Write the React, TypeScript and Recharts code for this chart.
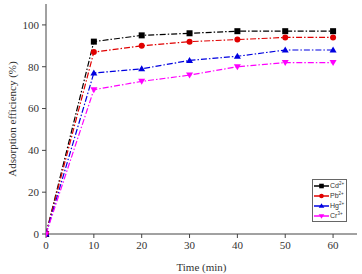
import { LineChart, Line, XAxis, YAxis, Label } from "recharts";

const times = [0, 10, 20, 30, 40, 50, 60];
const cd = [0, 92, 95, 96, 97, 97, 97];
const pb = [0, 87, 90, 92, 93, 94, 94];
const hg = [0, 77, 79, 83, 85, 88, 88];
const cr = [0, 69, 73, 76, 80, 82, 82];
const xTicks = [0, 10, 20, 30, 40, 50, 60];
const yTicks = [0, 20, 40, 60, 80, 100];

const data = times.map((t, i) => ({ t, cd: cd[i], pb: pb[i], hg: hg[i], cr: cr[i] }));

const series = [
  { key: "cd", ion: "Cd", charge: "2+", color: "#000000", shape: "square" },
  { key: "pb", ion: "Pb", charge: "2+", color: "#e00000", shape: "circle" },
  { key: "hg", ion: "Hg", charge: "2+", color: "#0000e0", shape: "triangle" },
  { key: "cr", ion: "Cr", charge: "3+", color: "#ff00ff", shape: "down" },
];

const serif = "'Liberation Serif', 'Times New Roman', serif";
const textCol = "#333";

function Marker({ cx, cy, shape, color, r = 3 }: any) {
  if (cx == null || cy == null) return null;
  if (shape === "square") return <rect x={cx - r} y={cy - r} width={r * 2} height={r * 2} fill={color} />;
  if (shape === "circle") return <circle cx={cx} cy={cy} r={r} fill={color} />;
  if (shape === "triangle")
    return <polygon points={`${cx},${cy - r - 0.5} ${cx - r - 0.5},${cy + r - 0.5} ${cx + r + 0.5},${cy + r - 0.5}`} fill={color} />;
  return <polygon points={`${cx},${cy + r + 0.5} ${cx - r - 0.5},${cy - r + 0.5} ${cx + r + 0.5},${cy - r + 0.5}`} fill={color} />;
}

// legend drawn as a plain overlay so it doesn't eat plot space
function LegendBox() {
  return (
    <div
      style={{
        position: "absolute",
        left: 312,
        top: 179,
        width: 35,
        height: 43,
        boxSizing: "border-box",
        border: "1px solid #666",
        background: "#fff",
        padding: "1px 1px",
        fontFamily: "'Liberation Sans', Arial, sans-serif",
        fontSize: 7,
      }}
    >
      {series.map((s) => (
        <div key={s.key} style={{ display: "flex", alignItems: "center", height: 10 }}>
          <svg width={15} height={8} style={{ flexShrink: 0, marginRight: 1 }}>
            <line x1={0} y1={4} x2={15} y2={4} stroke={s.color} strokeWidth={1.5} />
            <Marker cx={7.5} cy={4} shape={s.shape} color={s.color} r={2.3} />
          </svg>
          <span style={{ color: "#333", lineHeight: "10px", whiteSpace: "nowrap" }}>
            {s.ion}
            <span style={{ fontSize: 4.5, position: "relative", top: -3 }}>{s.charge}</span>
          </span>
        </div>
      ))}
    </div>
  );
}

export default function App() {
  return (
    <div style={{ position: "absolute", left: 0, top: 0, width: 362, height: 274, background: "#fff" }}>
      <LineChart width={362} height={274} data={data} margin={{ top: 4, right: 5, bottom: 0, left: 0 }}>
        <XAxis
          dataKey="t"
          type="number"
          domain={[0, 65]}
          ticks={xTicks}
          height={40}
          stroke="#444"
          tickSize={4}
          tickMargin={3}
          tick={{ fill: textCol, fontSize: 11, fontFamily: serif }}
          allowDataOverflow
        >
          <Label value="Time (min)" position="insideBottom" offset={3} style={{ fill: textCol, fontSize: 11, fontFamily: serif, fontWeight: 400 }} />
        </XAxis>
        <YAxis
          type="number"
          domain={[0, 110]}
          ticks={yTicks}
          width={46}
          stroke="#444"
          tickSize={4}
          tickMargin={3}
          tick={{ fill: textCol, fontSize: 11, fontFamily: serif }}
        >
          <Label
            value="Adsorption efficiency (%)"
            angle={-90}
            position="insideLeft"
            offset={12}
            style={{ textAnchor: "middle", fill: textCol, fontSize: 11, fontFamily: serif, fontWeight: 400 }}
          />
        </YAxis>
        <XAxis xAxisId="top" orientation="top" dataKey="t" type="number" domain={[0, 65]} height={0} tick={false} tickLine={false} stroke="#444" />
        <YAxis yAxisId="right" orientation="right" domain={[0, 110]} width={0} tick={false} tickLine={false} stroke="#444" />
        {series.map((s) => (
          <Line
            key={s.key}
            dataKey={s.key}
            stroke={s.color}
            strokeWidth={1.2}
            strokeDasharray="6 2 1.5 2"
            isAnimationActive={false}
            dot={(p: any) => <Marker key={`${s.key}-${p.index}`} cx={p.cx} cy={p.cy} shape={s.shape} color={s.color} />}
            activeDot={false}
          />
        ))}
      </LineChart>
      <LegendBox />
    </div>
  );
}
